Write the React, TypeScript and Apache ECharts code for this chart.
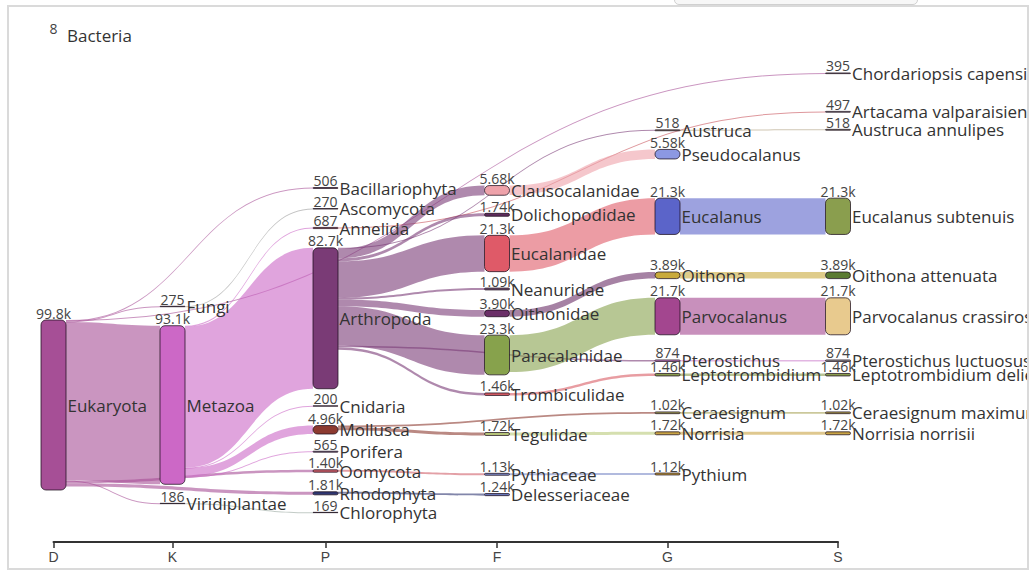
import React, { useEffect, useRef } from 'react';
import * as echarts from 'echarts';

// ---------------- data ----------------
const RANK_LABELS = ['D', 'K', 'P', 'F', 'G', 'S'];

const nodeNames = [
  'Bacteria', 'Eukaryota',
  'Fungi', 'Metazoa', 'Viridiplantae',
  'Bacillariophyta', 'Ascomycota', 'Annelida', 'Arthropoda', 'Cnidaria', 'Mollusca', 'Porifera', 'Oomycota', 'Rhodophyta', 'Chlorophyta',
  'Clausocalanidae', 'Dolichopodidae', 'Eucalanidae', 'Neanuridae', 'Oithonidae', 'Paracalanidae', 'Trombiculidae', 'Tegulidae', 'Pythiaceae', 'Delesseriaceae',
  'Austruca', 'Pseudocalanus', 'Eucalanus', 'Oithona', 'Parvocalanus', 'Pterostichus', 'Leptotrombidium', 'Ceraesignum', 'Norrisia', 'Pythium',
  'Chordariopsis capensis', 'Artacama valparaisiensis', 'Austruca annulipes', 'Eucalanus subtenuis', 'Oithona attenuata', 'Parvocalanus crassirostris', 'Pterostichus luctuosus', 'Leptotrombidium deliense', 'Ceraesignum maximum', 'Norrisia norrisii',
];

const nodeRanks = [
  0, 0,
  1, 1, 1,
  2, 2, 2, 2, 2, 2, 2, 2, 2, 2,
  3, 3, 3, 3, 3, 3, 3, 3, 3, 3,
  4, 4, 4, 4, 4, 4, 4, 4, 4, 4,
  5, 5, 5, 5, 5, 5, 5, 5, 5, 5,
];

const nodeValues = [
  8, 99800,
  275, 93100, 186,
  506, 270, 687, 82700, 200, 4960, 565, 1400, 1810, 169,
  5680, 1740, 21300, 1090, 3900, 23300, 1460, 1720, 1130, 1240,
  518, 5580, 21300, 3890, 21700, 874, 1460, 1020, 1720, 1120,
  395, 497, 518, 21300, 3890, 21700, 874, 1460, 1020, 1720,
];

const linkSources = [
  'Eukaryota', 'Eukaryota', 'Eukaryota', 'Eukaryota', 'Eukaryota', 'Eukaryota', 'Eukaryota',
  'Fungi', 'Metazoa', 'Metazoa', 'Metazoa', 'Metazoa', 'Metazoa', 'Viridiplantae',
  'Annelida', 'Arthropoda', 'Arthropoda', 'Arthropoda', 'Arthropoda', 'Arthropoda', 'Arthropoda', 'Arthropoda', 'Arthropoda', 'Arthropoda',
  'Mollusca', 'Mollusca', 'Oomycota', 'Rhodophyta',
  'Clausocalanidae', 'Eucalanidae', 'Oithonidae', 'Paracalanidae', 'Trombiculidae', 'Tegulidae', 'Pythiaceae',
  'Austruca', 'Eucalanus', 'Oithona', 'Parvocalanus', 'Pterostichus', 'Leptotrombidium', 'Ceraesignum', 'Norrisia',
];
const linkTargets = [
  'Chordariopsis capensis', 'Bacillariophyta', 'Fungi', 'Metazoa', 'Oomycota', 'Rhodophyta', 'Viridiplantae',
  'Ascomycota', 'Annelida', 'Arthropoda', 'Cnidaria', 'Mollusca', 'Porifera', 'Chlorophyta',
  'Artacama valparaisiensis', 'Austruca', 'Clausocalanidae', 'Dolichopodidae', 'Eucalanidae', 'Neanuridae', 'Oithonidae', 'Paracalanidae', 'Pterostichus', 'Trombiculidae',
  'Ceraesignum', 'Tegulidae', 'Pythiaceae', 'Delesseriaceae',
  'Pseudocalanus', 'Eucalanus', 'Oithona', 'Parvocalanus', 'Leptotrombidium', 'Norrisia', 'Pythium',
  'Austruca annulipes', 'Eucalanus subtenuis', 'Oithona attenuata', 'Parvocalanus crassirostris', 'Pterostichus luctuosus', 'Leptotrombidium deliense', 'Ceraesignum maximum', 'Norrisia norrisii',
];
const linkValues = [
  395, 506, 275, 93100, 1400, 1810, 186,
  270, 687, 82700, 200, 4960, 565, 169,
  497, 518, 5680, 1740, 21300, 1090, 3900, 23300, 874, 1460,
  1020, 1720, 1130, 1240,
  5580, 21300, 3890, 21700, 1460, 1720, 1120,
  518, 21300, 3890, 21700, 874, 1460, 1020, 1720,
];

// ---------------- layout & style ----------------
const RANK_X = [53.5, 172.5, 325.5, 497, 667.5, 838]; // page x of each rank column centre
const NODE_CENTER_Y = [
  35.5, 405,
  306.5, 405, 503.5,
  188, 208.8, 228, 318.3, 406, 429.8, 451.7, 471, 493.3, 512.5,
  190.4, 214.8, 253.5, 289, 313.4, 355, 394.2, 434, 474.3, 494.6,
  130.3, 154.2, 216.3, 275.3, 316.3, 360.7, 374.7, 412.8, 433.3, 474,
  73.3, 111.8, 129.8, 216.3, 275.3, 316.3, 360.7, 374.7, 412.8, 433.3,
];
const NODE_COLORS = [
  '#888888', '#a64f96',
  '#9a9a9a', '#cc68c6', '#9aa8a0',
  '#9b6f8f', '#9a9a9a', '#c8545c', '#7a3b76', '#b0a0b0', '#8c3a30', '#8a7a9a', '#d0606a', '#2e3672', '#a0a8a0',
  '#eea2aa', '#5e2c5c', '#df5a68', '#7a5a7a', '#6b2f68', '#87a24c', '#d85c64', '#b9c97a', '#7d8cc8', '#6a78bc',
  '#b0a080', '#8c98e2', '#5b64c9', '#c9aa3c', '#a3468f', '#cf85cf', '#8a9c4e', '#a8a458', '#c9a444', '#c9a444',
  '#c0b0b0', '#c0c0c0', '#c0c0a0', '#8a9e4e', '#5b7b32', '#e8ca8e', '#9a9a9a', '#8a9c4e', '#b0a050', '#c9a444',
];

const CHART_LEFT = 9;
const CHART_TOP = 7;
const CHART_W = 1018;
const CHART_H = 561;
const NODE_W = 25;
const SANKEY_TOP = 20;
const SANKEY_H = 500;
const PX_PER_UNIT = 170 / 99800;
const AXIS_Y = 542;
const FONT = "'Open Sans', 'Noto Sans', sans-serif";

const fmt = (v: number) => (v >= 1000 ? (v / 1000).toPrecision(3) + 'k' : String(v));

function buildOption() {
  const cols = RANK_LABELS.map((_, r) => r);
  const colSum = cols.map((r) => nodeValues.reduce((s, v, i) => (nodeRanks[i] === r ? s + v : s), 0));
  const colCnt = cols.map((r) => nodeRanks.filter((x) => x === r).length);
  const nodeGap = Math.min(
    ...cols.filter((r) => colCnt[r] > 1).map((r) => (SANKEY_H - PX_PER_UNIT * colSum[r]) / (colCnt[r] - 1))
  );
  const ky = Math.min(...cols.map((r) => (SANKEY_H - (colCnt[r] - 1) * nodeGap) / colSum[r]));

  const makeNodes = (visible: boolean) =>
    nodeNames.map((name, i) => ({
      name,
      value: nodeValues[i],
      depth: nodeRanks[i],
      localX: (RANK_X[nodeRanks[i]] - CHART_LEFT - NODE_W / 2) / CHART_W,
      localY: (NODE_CENTER_Y[i] - CHART_TOP - SANKEY_TOP - (nodeValues[i] * ky) / 2) / SANKEY_H,
      itemStyle: visible
        ? {
            color: NODE_COLORS[i],
            borderColor: 'rgba(30,15,30,0.75)',
            borderWidth: nodeValues[i] * ky < 0.1 ? 0 : 1,
            borderRadius: 5,
          }
        : { color: 'rgba(0,0,0,0)', borderWidth: 0 },
    }));
  const links = linkSources.map((s, i) => ({ source: s, target: linkTargets[i], value: linkValues[i] }));

  const common = {
    type: 'sankey',
    left: 0,
    right: 0,
    top: SANKEY_TOP,
    height: SANKEY_H,
    nodeWidth: NODE_W,
    nodeGap,
    layoutIterations: 0,
    nodeAlign: 'left',
    draggable: false,
    silent: true,
    emphasis: { disabled: true },
    links,
  };

  return {
    animation: false,
    grid: {
      left: RANK_X[0] - CHART_LEFT,
      width: RANK_X[5] - RANK_X[0],
      top: AXIS_Y - CHART_TOP - 10,
      height: 10,
    },
    xAxis: {
      type: 'value',
      min: RANK_X[0],
      max: RANK_X[5],
      axisLine: { show: true, lineStyle: { color: '#333', width: 2 } },
      axisTick: { show: true, customValues: RANK_X, length: 6, lineStyle: { color: '#333', width: 1.5 } },
      axisLabel: {
        show: true,
        customValues: RANK_X,
        formatter: (v: number) => {
          let best = 0;
          RANK_X.forEach((x, i) => {
            if (Math.abs(x - v) < Math.abs(RANK_X[best] - v)) best = i;
          });
          return RANK_LABELS[best];
        },
        fontFamily: "'Liberation Sans', Arial, sans-serif",
        fontSize: 14,
        color: '#444',
        margin: 8,
      },
      splitLine: { show: false },
    },
    yAxis: { type: 'value', show: false },
    series: [
      {
        ...common,
        data: makeNodes(true),
        lineStyle: { color: 'source', opacity: 0.6, curveness: 0.5 },
        label: {
          show: true,
          position: 'right',
          distance: 1,
          formatter: '{b}',
          fontFamily: FONT,
          fontSize: 17,
          color: '#333',
        },
      },
      {
        ...common,
        data: makeNodes(false),
        lineStyle: { color: 'source', opacity: 0, curveness: 0.5 },
        label: {
          show: true,
          position: 'top',
          distance: 0,
          formatter: (p: any) => fmt(nodeValues[nodeNames.indexOf(p.name)]),
          fontFamily: FONT,
          fontSize: 14,
          color: '#444',
        },
      },
    ],
  };
}

export default function App() {
  const ref = useRef<HTMLDivElement>(null);
  useEffect(() => {
    if (!ref.current) return;
    const chart = echarts.init(ref.current, null, { renderer: 'svg' });
    chart.setOption(buildOption() as any);
    return () => chart.dispose();
  }, []);
  return (
    <div style={{ position: 'fixed', left: 0, top: 0, width: 1032, height: 570, background: '#fff', overflow: 'hidden' }}>
      <div
        style={{
          position: 'absolute', left: 674, top: -3, width: 244, height: 8, boxSizing: 'border-box',
          border: '1px solid #d0d0d0', borderRadius: '0 0 5px 5px', background: '#f7f7f7',
        }}
      />
      <div
        style={{
          position: 'absolute', left: 7, top: 5, width: 1022, height: 565, boxSizing: 'border-box',
          border: '2px solid #dadada',
        }}
      />
      <div ref={ref} style={{ position: 'absolute', left: CHART_LEFT, top: CHART_TOP, width: CHART_W, height: CHART_H }} />
    </div>
  );
}
